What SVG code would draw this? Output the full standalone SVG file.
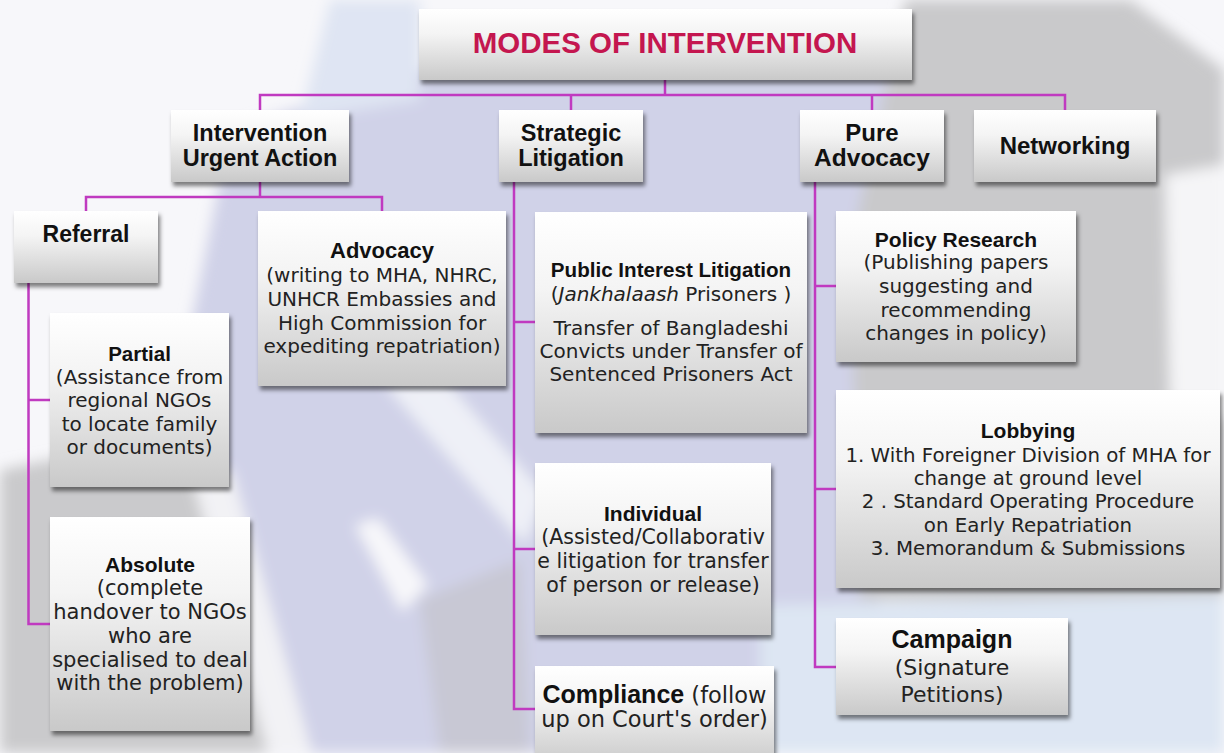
<svg xmlns="http://www.w3.org/2000/svg" width="1224" height="753" viewBox="0 0 1224 753">
<defs>
<linearGradient id="boxGrad" x1="0" y1="0" x2="0" y2="1">
<stop offset="0" stop-color="#ffffff"/>
<stop offset="0.35" stop-color="#f4f4f4"/>
<stop offset="1" stop-color="#c9c9c9"/>
</linearGradient>
<filter id="shadow" x="-10%" y="-10%" width="125%" height="130%">
<feDropShadow dx="2" dy="4" stdDeviation="2.2" flood-color="#000" flood-opacity="0.5"/>
</filter>
<filter id="soft" x="-20%" y="-20%" width="140%" height="140%">
<feGaussianBlur stdDeviation="7"/>
</filter>
<style>
.box{fill:url(#boxGrad);filter:url(#shadow);}
.h{font-family:"Liberation Sans",Arial,sans-serif;font-weight:bold;fill:#111;text-anchor:middle;}
.b{font-family:"DejaVu Sans","Liberation Sans",sans-serif;fill:#222;text-anchor:middle;}
.con{fill:none;stroke:#c03ac0;stroke-width:2.5;}
</style>
</defs>

<g id="background">
<rect x="0" y="0" width="1224" height="753" fill="#f7f7fa"/>
<g filter="url(#soft)">
<polygon points="230,130 420,70 650,40 900,60 880,600 800,753 290,753 170,430" fill="#d0d2e8"/>
<polygon points="330,0 420,0 420,100 300,120" fill="#dfe5f3"/>
<polygon points="905,0 1130,0 1224,70 1224,600 860,600 850,250" fill="#c9c9cb"/>
<polygon points="1165,175 1224,165 1224,420 1170,400" fill="#f5f5f7"/>
<polygon points="0,470 200,430 300,753 0,753" fill="#cacacc"/>
<polygon points="190,470 232,470 312,753 268,753" fill="#f2f2f5"/>
<polygon points="355,525 378,518 428,585 402,612" fill="#f7f7fa"/>
<polygon points="385,385 445,380 545,495 525,545" fill="#eef0f7"/>
<polygon points="760,605 1224,595 1224,753 760,753" fill="#dde6f3"/>
<polygon points="420,600 520,560 530,753 440,753" fill="#c8c8d4"/>
</g>
</g>

<g id="connectors">
<path class="con" d="M665,80 V95"/>
<path class="con" d="M260,110 V95 H1065 V110"/>
<path class="con" d="M571,95 V110"/>
<path class="con" d="M872,95 V110"/>
<path class="con" d="M260,182 V197"/>
<path class="con" d="M86,211 V197 H382 V211"/>
<path class="con" d="M28.5,283 V624 H50"/>
<path class="con" d="M28.5,400 H50"/>
<path class="con" d="M514,182 V709 H535"/>
<path class="con" d="M514,322 H535"/>
<path class="con" d="M514,549 H535"/>
<path class="con" d="M815,182 V667 H836"/>
<path class="con" d="M815,286 H836"/>
<path class="con" d="M815,489 H836"/>
</g>

<g id="title">
<rect class="box" x="419" y="9" width="493" height="71"/>
<text class="h" x="665" y="53" font-size="29.5" fill="#c4164f" style="fill:#c4164f">MODES OF INTERVENTION</text>
</g>

<g id="intervention">
<rect class="box" x="171" y="110" width="178" height="72"/>
<text class="h" x="260" y="141" font-size="23.5">Intervention</text>
<text class="h" x="260" y="166" font-size="23.5">Urgent Action</text>
</g>

<g id="strategic">
<rect class="box" x="499" y="110" width="144" height="72"/>
<text class="h" x="571" y="141" font-size="23.5">Strategic</text>
<text class="h" x="571" y="166" font-size="23.5">Litigation</text>
</g>

<g id="pure-advocacy">
<rect class="box" x="800" y="110" width="144" height="72"/>
<text class="h" x="872" y="141" font-size="24">Pure</text>
<text class="h" x="872" y="166" font-size="24.5">Advocacy</text>
</g>

<g id="networking">
<rect class="box" x="974" y="110" width="182" height="72"/>
<text class="h" x="1065" y="154" font-size="24">Networking</text>
</g>

<g id="referral">
<rect class="box" x="14" y="211" width="144" height="72"/>
<text class="h" x="86" y="242" font-size="23">Referral</text>
</g>

<g id="advocacy">
<rect class="box" x="258" y="211" width="248" height="175"/>
<text class="h" x="382" y="258" font-size="22">Advocacy</text>
<text class="b" x="382" y="282" font-size="20">(writing to MHA, NHRC,</text>
<text class="b" x="382" y="306" font-size="20">UNHCR Embassies and</text>
<text class="b" x="382" y="330" font-size="20">High Commission for</text>
<text class="b" x="382" y="353" font-size="20">expediting repatriation)</text>
</g>

<g id="partial">
<rect class="box" x="50" y="313" width="179" height="174"/>
<text class="h" x="139.5" y="361" font-size="20.5">Partial</text>
<text class="b" x="139.5" y="384" font-size="20">(Assistance from</text>
<text class="b" x="139.5" y="407" font-size="20">regional NGOs</text>
<text class="b" x="139.5" y="431" font-size="20">to locate family</text>
<text class="b" x="139.5" y="454" font-size="20">or documents)</text>
</g>

<g id="absolute">
<rect class="box" x="50" y="517" width="200" height="214"/>
<text class="h" x="150" y="572" font-size="21">Absolute</text>
<text class="b" x="150" y="595" font-size="21">(complete</text>
<text class="b" x="150" y="619" font-size="21">handover to NGOs</text>
<text class="b" x="150" y="643" font-size="21">who are</text>
<text class="b" x="150" y="667" font-size="21">specialised to deal</text>
<text class="b" x="150" y="690" font-size="21">with the problem)</text>
</g>

<g id="pil">
<rect class="box" x="535" y="212" width="272" height="221"/>
<text class="h" x="671" y="277" font-size="20.6">Public Interest Litigation</text>
<text class="b" x="671" y="301" font-size="20">(<tspan font-style="italic">Jankhalaash</tspan> Prisoners )</text>
<text class="b" x="671" y="335" font-size="20">Transfer of Bangladeshi</text>
<text class="b" x="671" y="358" font-size="20">Convicts under Transfer of</text>
<text class="b" x="671" y="381" font-size="20">Sentenced Prisoners Act</text>
</g>

<g id="individual">
<rect class="box" x="535" y="463" width="236" height="172"/>
<text class="h" x="653" y="521" font-size="21">Individual</text>
<text class="b" x="653" y="544" font-size="20.5">(Assisted/Collaborativ</text>
<text class="b" x="653" y="568" font-size="20.5">e litigation for transfer</text>
<text class="b" x="653" y="592" font-size="20.5">of person or release)</text>
</g>

<g id="compliance">
<rect class="box" x="535" y="666" width="239" height="100"/>
<text class="b" x="654.5" y="703" font-size="22.5"><tspan style="font-family:'Liberation Sans',Arial,sans-serif;font-weight:bold;fill:#111" font-size="25">Compliance</tspan> (follow</text>
<text class="b" x="654.5" y="727" font-size="22.5">up on Court's order)</text>
</g>

<g id="policy-research">
<rect class="box" x="836" y="211" width="240" height="151"/>
<text class="h" x="956" y="247" font-size="21">Policy Research</text>
<text class="b" x="956" y="269" font-size="20">(Publishing papers</text>
<text class="b" x="956" y="293" font-size="20">suggesting and</text>
<text class="b" x="956" y="317" font-size="20">recommending</text>
<text class="b" x="956" y="340" font-size="20">changes in policy)</text>
</g>

<g id="lobbying">
<rect class="box" x="836" y="390" width="384" height="198"/>
<text class="h" x="1028" y="438" font-size="21">Lobbying</text>
<text class="b" x="1028" y="462" font-size="19.8">1. With Foreigner Division of MHA for</text>
<text class="b" x="1028" y="485" font-size="19.8">change at ground level</text>
<text class="b" x="1028" y="508" font-size="19.8">2 . Standard Operating Procedure</text>
<text class="b" x="1028" y="532" font-size="19.8">on Early Repatriation</text>
<text class="b" x="1028" y="555" font-size="19.8">3. Memorandum &amp; Submissions</text>
</g>

<g id="campaign">
<rect class="box" x="836" y="618" width="232" height="97"/>
<text class="h" x="952" y="648" font-size="25">Campaign</text>
<text class="b" x="952" y="675" font-size="22">(Signature</text>
<text class="b" x="952" y="702" font-size="22">Petitions)</text>
</g>
</svg>
